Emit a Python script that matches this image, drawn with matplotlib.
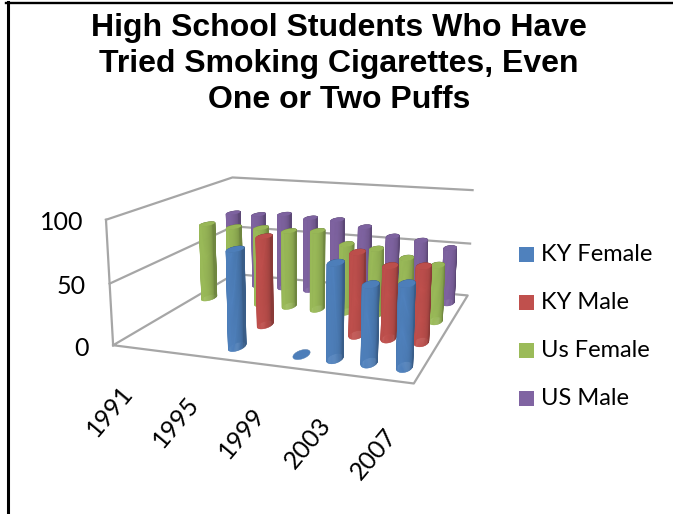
import numpy as np
import matplotlib
matplotlib.use('Agg')
import matplotlib.pyplot as plt
from matplotlib.colors import to_rgb
from matplotlib.lines import Line2D
from matplotlib.patches import Rectangle
from mpl_toolkits.mplot3d.art3d import Poly3DCollection

W, H = 673, 514

years = [1991, 1993, 1995, 1997, 1999, 2001, 2003, 2005, 2007]
shown_years = ['1991', '1995', '1999', '2003', '2007']
value_ticks = [0, 50, 100]

# None means no survey value for that year
ky_female = [None, None, None, 78, None, 0, 74, 60, 63]
ky_male = [None, None, None, 76, None, None, 69, 60, 62]
us_female = [70, 69, 70, 69, 71, 61, 59, 53, 49]
us_male = [70, 70, 72, 70, 70, 65, 58, 56, 51]

series = [
    ('KY Female', ky_female, '#4F81BD'),
    ('KY Male', ky_male, '#C0504D'),
    ('Us Female', us_female, '#9BBB59'),
    ('US Male', us_male, '#8064A2'),
]

GRID = '#a6a6a6'


def fx(px):
    return px / W


def fy(py):
    return 1 - py / H


def cylinder(ax, x, y, height, color, zorder):
    rx, ry = 0.21, 0.2
    th = np.linspace(0, 2 * np.pi, 49)
    X = x + rx * np.cos(th)
    Y = y + ry * np.sin(th)
    xs = np.array([X, X])
    ys = np.array([Y, Y])
    zs = np.array([np.zeros_like(th), np.full_like(th, height)])

    # brightest a little left of the front, darker toward the silhouette
    mid = (th[:-1] + th[1:]) / 2
    light = 0.72 + 0.28 * np.sqrt(np.clip(np.cos(mid + np.radians(95)), 0, 1))
    base = np.array(to_rgb(color))
    cols = np.clip(base[None, :] * light[:, None], 0, 1)
    cols = np.concatenate([cols, np.ones((len(mid), 1))], axis=1)[None, :, :]
    ax.plot_surface(xs, ys, zs, facecolors=cols, rstride=1, cstride=1,
                    shade=False, linewidth=0.3, antialiased=True,
                    zorder=zorder)
    cap = Poly3DCollection([list(zip(X, Y, np.full_like(th, height)))],
                           facecolor=base * 0.98,
                           edgecolor='none', zorder=zorder + 0.5)
    ax.add_collection3d(cap)


fig = plt.figure(figsize=(W / 100, H / 100), dpi=100, facecolor='white')
ax = fig.add_axes([fx(49.85), fy(518.5), 500 / W, 500 / H], projection='3d',
                  computed_zorder=False)
ax.set_proj_type('persp', focal_length=0.3193)
ax.view_init(elev=13.906, azim=-70.637)
ax.set_box_aspect((2.868, 2.787, 1.198), zoom=0.798)
ax.set_xlim(0, len(years), view_margin=0)
ax.set_ylim(0, len(series), view_margin=0)
ax.set_zlim(0, 100, view_margin=0)
ax.set_axis_off()
ax.patch.set_alpha(0)

nx, ny = len(years), len(series)
line = dict(color=GRID, lw=1.6, zorder=1)
# floor outline
ax.plot([0, nx, nx, 0, 0], [0, 0, ny, ny, 0], [0, 0, 0, 0, 0], **line)
# side and back walls
for v in value_ticks[1:]:
    ax.plot([0, 0, nx], [0, ny, ny], [v, v, v], **line)
ax.plot([0, 0], [0, 0], [0, 100], **line)

z = 2
for row in range(ny - 1, -1, -1):
    values = series[row][1]
    for col in range(nx):
        if values[col] is None:
            continue
        cylinder(ax, col + 0.5, row + 0.5, values[col], series[row][2], z)
        z += 1

# value axis labels
for v, px, py in zip(value_ticks[::-1], [83, 86, 89], [223, 287, 348]):
    fig.text(fx(px), fy(py), str(v), ha='right', va='center',
             fontsize=18, family='Lato', color='black')

# category labels
for i, label in enumerate(shown_years):
    fig.text(fx(110 + 66 * i), fy(411 + 10.8 * i), label, ha='center',
             va='center', rotation=50, rotation_mode='anchor', fontsize=18,
             family='Lato', color='black')

fig.text(fx(339), fy(64), 'High School Students Who Have\nTried Smoking Cigarettes, Even\nOne or Two Puffs',
         ha='center', va='center', fontsize=23, fontweight='bold',
         family='Liberation Sans', linespacing=1.27, color='black')

# legend
for i, (name, values, color) in enumerate(series):
    py = 254.5 + 48 * i
    fig.add_artist(Rectangle((fx(519), fy(py + 7.5)), 15 / W, 15 / H,
                             transform=fig.transFigure, facecolor=color,
                             edgecolor='none'))
    fig.text(fx(541), fy(py), name, ha='left', va='center', fontsize=17,
             family='Lato', color='black')

# slide frame: left and top edges only
fig.add_artist(Line2D([fx(7.5), fx(7.5)], [fy(514), fy(2)], color='black',
                      lw=2.2, transform=fig.transFigure))
fig.add_artist(Line2D([fx(6), fx(673)], [fy(3), fy(3)], color='black',
                      lw=1.7, transform=fig.transFigure))

fig.savefig('out.png', dpi=100)
